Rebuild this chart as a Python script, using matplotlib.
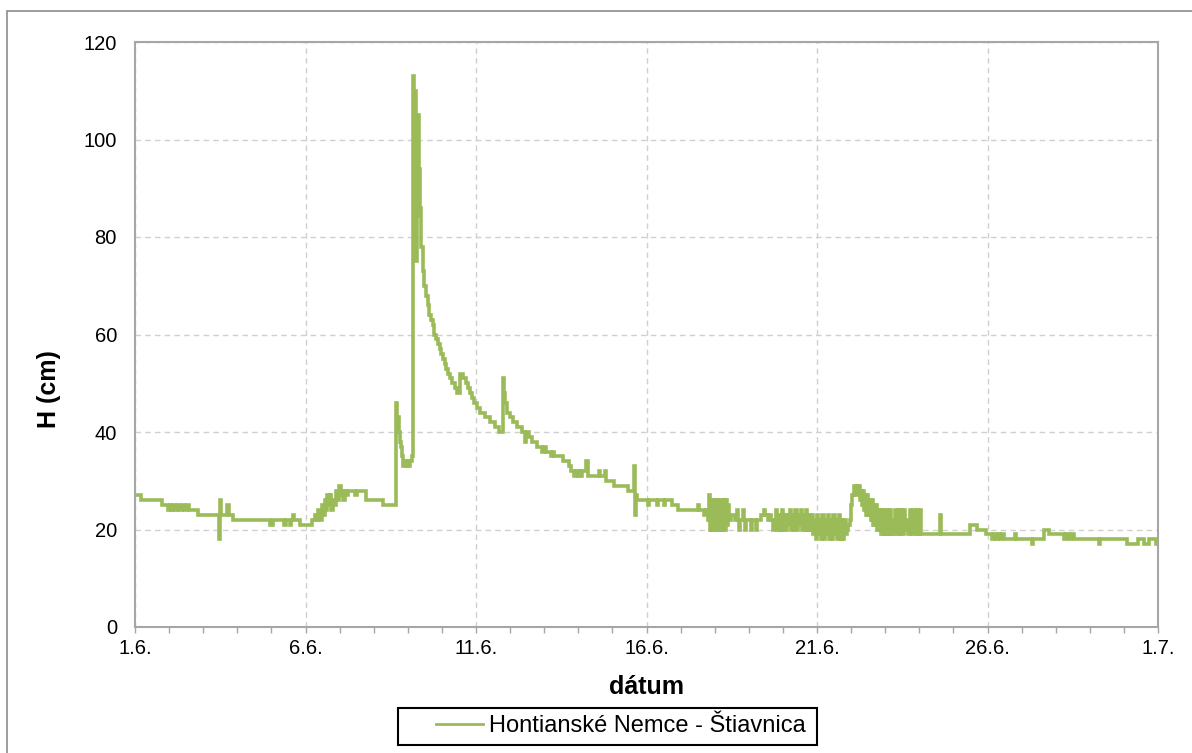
import matplotlib
matplotlib.use("Agg")
import matplotlib.pyplot as plt
from matplotlib.patches import Rectangle
from matplotlib.ticker import MultipleLocator

plt.rcParams['font.family'] = ['Liberation Sans', 'DejaVu Sans']

###############################################################################
# Data: (day since 1.6., H in cm), stepwise gauge record
###############################################################################
SERIES = 'Hontianské Nemce - Štiavnica'
XTICK_LABELS = ['1.6.', '6.6.', '11.6.', '16.6.', '21.6.', '26.6.', '1.7.']

EARLY = [
    (0.00, 27), (0.19, 26), (0.78, 25), (0.97, 24), (1.02, 25), (1.07, 24),
    (1.12, 25), (1.17, 24), (1.24, 25), (1.29, 24), (1.38, 25), (1.43, 24),
    (1.52, 25), (1.57, 24), (1.85, 23), (2.47, 18), (2.50, 26), (2.53, 23),
    (2.71, 25), (2.75, 23), (2.88, 22), (3.95, 21), (4.05, 22), (4.38, 21),
    (4.42, 22), (4.55, 21), (4.58, 22), (4.64, 23), (4.67, 22), (4.84, 21),
    (5.20, 22), (5.28, 23), (5.33, 22), (5.38, 24), (5.42, 22), (5.47, 25),
    (5.51, 23), (5.56, 26), (5.60, 24), (5.64, 27), (5.68, 25), (5.72, 27),
    (5.76, 24), (5.80, 26), (5.85, 25), (5.90, 28), (5.94, 26), (5.99, 29),
    (6.03, 27), (6.07, 28), (6.11, 26), (6.15, 28), (6.20, 27), (6.24, 28),
    (6.45, 27), (6.50, 28), (6.78, 26), (7.27, 25),
]

FLOOD = [
    (7.65, 46), (7.69, 43), (7.73, 40), (7.77, 38), (7.80, 37), (7.84, 35),
    (7.87, 33), (7.91, 34), (7.95, 33), (7.99, 34), (8.03, 33), (8.07, 34),
    (8.12, 35), (8.16, 113), (8.19, 88), (8.21, 110), (8.23, 75), (8.26, 98),
    (8.29, 84), (8.31, 105), (8.34, 94), (8.37, 86), (8.40, 78), (8.44, 73),
    (8.48, 70), (8.53, 68), (8.58, 66), (8.63, 64), (8.68, 63), (8.73, 62),
    (8.78, 60), (8.83, 59), (8.88, 58), (8.93, 57), (8.98, 56), (9.03, 55),
    (9.08, 54), (9.13, 53), (9.18, 52), (9.24, 51), (9.31, 50), (9.38, 49),
    (9.45, 48), (9.52, 52), (9.63, 51), (9.70, 50), (9.76, 49), (9.82, 48),
    (9.88, 47), (9.95, 46), (10.03, 45), (10.12, 44), (10.25, 43), (10.40, 42),
    (10.55, 41), (10.68, 40), (10.79, 51), (10.82, 48), (10.86, 46), (10.90, 44),
    (11.00, 43), (11.08, 42), (11.20, 41), (11.35, 40), (11.45, 38), (11.48, 40),
    (11.55, 39), (11.65, 38), (11.80, 37), (11.95, 36), (12.00, 37), (12.04, 36),
    (12.20, 35), (12.25, 36), (12.28, 35), (12.55, 34), (12.72, 33), (12.80, 32),
    (12.88, 31), (12.92, 32), (12.98, 31), (13.02, 32), (13.08, 31), (13.12, 32),
    (13.24, 34), (13.27, 31), (13.62, 32), (13.65, 31), (13.78, 32), (13.81, 30),
    (14.05, 29), (14.46, 28), (14.62, 33), (14.65, 23), (14.68, 27), (14.72, 26),
    (15.05, 25), (15.08, 26), (15.30, 25), (15.33, 26), (15.50, 25), (15.53, 26),
    (15.74, 25),
]

LATE = [
    (15.93, 24), (16.52, 25), (16.55, 24), (16.70, 23), (16.75, 24), (16.80, 22),
    (16.84, 27), (16.86, 20), (16.88, 26), (16.90, 20), (16.92, 26), (16.94, 20),
    (16.96, 26), (16.98, 20), (17.00, 26), (17.02, 20), (17.04, 26), (17.06, 20),
    (17.08, 26), (17.10, 20), (17.12, 26), (17.14, 20), (17.16, 26), (17.18, 20),
    (17.20, 26), (17.22, 20), (17.24, 26), (17.26, 20), (17.28, 26), (17.30, 20),
    (17.32, 26), (17.35, 21), (17.38, 25), (17.41, 22), (17.48, 23), (17.60, 22),
    (17.65, 24), (17.68, 22), (17.72, 20), (17.75, 22), (17.82, 24), (17.85, 22),
    (17.88, 20), (17.91, 22), (18.05, 20), (18.08, 22), (18.22, 20), (18.25, 22),
    (18.36, 23), (18.45, 24), (18.48, 23), (18.55, 22), (18.60, 23), (18.66, 22),
    (18.70, 20), (18.73, 22), (18.78, 21),
    (18.80, 24), (18.84, 20), (18.88, 23), (18.92, 20), (18.96, 24), (19.00, 20),
    (19.04, 23), (19.08, 20), (19.12, 23), (19.16, 21), (19.20, 24), (19.24, 20),
    (19.28, 23), (19.32, 20), (19.36, 24), (19.40, 20), (19.44, 23), (19.48, 21),
    (19.52, 24), (19.56, 20), (19.60, 23), (19.64, 20), (19.68, 24), (19.72, 20),
    (19.76, 23), (19.80, 20), (19.84, 23), (19.88, 19),
    (19.92, 22), (19.96, 18), (20.00, 23), (20.04, 19), (20.08, 22), (20.12, 18),
    (20.16, 23), (20.20, 18), (20.24, 22), (20.28, 19), (20.32, 23), (20.36, 18),
    (20.40, 22), (20.44, 18), (20.48, 23), (20.52, 19), (20.56, 22), (20.60, 18),
    (20.64, 23), (20.68, 18), (20.72, 22), (20.76, 18), (20.80, 22), (20.84, 19),
    (20.88, 20), (20.92, 21), (20.96, 22), (21.00, 25), (21.04, 27), (21.08, 29),
    (21.12, 27), (21.16, 29), (21.20, 28), (21.24, 29), (21.27, 26), (21.30, 28),
    (21.33, 25), (21.36, 28), (21.39, 24), (21.42, 27), (21.45, 23), (21.48, 27),
    (21.51, 23), (21.54, 26), (21.57, 22), (21.60, 26), (21.63, 21), (21.66, 25),
    (21.69, 21), (21.72, 25), (21.75, 20), (21.78, 24), (21.81, 20), (21.84, 24),
    (21.87, 19), (21.90, 24), (21.93, 19), (21.96, 24), (21.99, 19), (22.02, 23),
    (22.05, 19), (22.08, 24), (22.11, 19), (22.14, 24), (22.17, 19), (22.20, 22),
    (22.24, 19), (22.30, 24), (22.34, 19), (22.38, 24), (22.42, 19), (22.46, 24),
    (22.50, 19), (22.54, 24), (22.58, 20), (22.62, 22), (22.66, 19), (22.72, 24),
    (22.76, 19), (22.82, 24), (22.86, 19), (22.92, 24), (22.96, 19), (23.02, 24),
    (23.06, 19), (23.60, 23), (23.63, 19), (24.50, 21), (24.70, 20), (24.97, 19),
    (25.13, 18), (25.18, 19), (25.24, 18), (25.30, 19), (25.36, 18), (25.42, 19),
    (25.47, 18), (25.80, 19), (25.84, 18), (26.30, 17), (26.33, 18), (26.66, 20),
    (26.81, 19), (27.25, 18), (27.30, 19), (27.38, 18), (27.45, 19), (27.55, 18),
    (28.28, 17), (28.31, 18), (29.10, 17), (29.40, 18), (29.60, 17), (29.75, 18),
    (29.95, 17), (30.00, 17),
]

###############################################################################
# Plot
###############################################################################
(W, H, DPI) = (1192, 753, 100)
GREEN = '#9BBB59'
GRAY = '#A6A6A6'

pts = EARLY + FLOOD + LATE
days = [p[0] for p in pts]
level = [p[1] for p in pts]

fig = plt.figure(figsize=(W/DPI, H/DPI), dpi=DPI)
ax = fig.add_axes([135/W, 1-627/H, (1158-135)/W, (627-42)/H])

ax.plot(days, level, color=GREEN, lw=2.6, drawstyle='steps-post',
        label=SERIES, solid_joinstyle='miter')

ax.set_xlim(0, 30)
ax.set_ylim(0, 120)
ax.set_xticks(range(0, 31, 5))
ax.set_xticklabels(XTICK_LABELS)
ax.xaxis.set_minor_locator(MultipleLocator(1))
ax.yaxis.set_major_locator(MultipleLocator(20))

ax.grid(True, which='major', color='#D0D0D0', lw=1, ls=(0, (4, 3)))
ax.set_axisbelow(True)
for s in ax.spines.values():
    s.set_color(GRAY)
    s.set_linewidth(1.5)

ax.tick_params(axis='x', which='both', direction='out', length=4,
               color=GRAY, width=1, labelsize=14.5, pad=5)
ax.tick_params(axis='y', length=0, labelsize=14.5, pad=13)

ax.set_xlabel('dátum', fontsize=18, fontweight='bold')
ax.xaxis.set_label_coords(0.5, (627-675)/585)
ax.set_ylabel('H (cm)', fontsize=18, fontweight='bold')
ax.yaxis.set_label_coords((61-135)/1023, (627-389)/585)

# legend frame drawn by hand, legend entries placed inside it
fig.add_artist(Rectangle((398/W, 1-745/H), (817-398)/W, (745-708)/H,
                         transform=fig.transFigure, fill=False,
                         edgecolor='black', lw=1.5))
leg = fig.legend(loc='center left', bbox_to_anchor=(436/W, 1-726/H),
                 fontsize=17, frameon=False, handlelength=2.0,
                 handletextpad=0.25, borderpad=0, borderaxespad=0)
leg.legend_handles[0].set_linewidth(2)

fig.add_artist(Rectangle((7/W, -0.05), 1.05, 1-11/H+0.05, transform=fig.transFigure,
                         fill=False, edgecolor='#8C8C8C', lw=1.2))

fig.savefig('out.png', dpi=DPI)
plt.close('all')
